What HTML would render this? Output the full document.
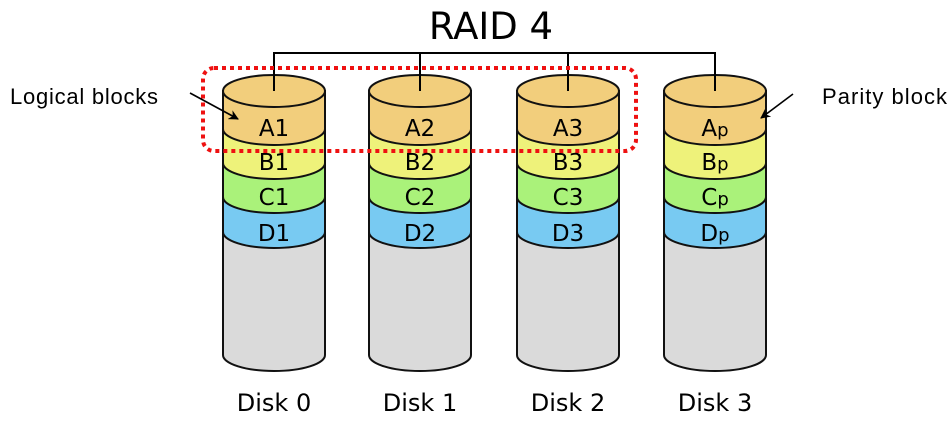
<!DOCTYPE html>
<html><head><meta charset="utf-8"><style>
html,body{margin:0;padding:0;background:#fff;}
svg{display:block;}
</style></head><body>
<svg width="951" height="426" viewBox="0 0 951 426" xmlns="http://www.w3.org/2000/svg">
<defs>
<marker id="ah" markerWidth="10" markerHeight="10" refX="9" refY="5" orient="auto" markerUnits="userSpaceOnUse">
<path d="M0,0 L10,5 L0,10 L3,5 Z" fill="#000"/>
</marker>
<g id="cyl" stroke="#111" stroke-width="2">
<path d="M-51,91 L-51,355 A51,16 0 0 0 51,355 L51,91 Z" fill="#dadada"/>
<path d="M-51,91 L-51,232 A51,16 0 0 0 51,232 L51,91 Z" fill="#78caf2"/>
<path d="M-51,91 L-51,197 A51,16 0 0 0 51,197 L51,91 Z" fill="#aaf27a"/>
<path d="M-51,91 L-51,163 A51,16 0 0 0 51,163 L51,91 Z" fill="#eef27a"/>
<path d="M-51,91 L-51,129 A51,16 0 0 0 51,129 L51,91 Z" fill="#f2ce7c"/>
<ellipse cx="0" cy="91" rx="51" ry="16" fill="#f2ce7c"/>
</g>
</defs>
<text x="491" y="39" style="font-family:'DejaVu Sans',sans-serif;font-size:37px" text-anchor="middle" fill="#000">RAID 4</text>

<use href="#cyl" x="274"/>
<use href="#cyl" x="420"/>
<use href="#cyl" x="568"/>
<use href="#cyl" x="715"/>

<path d="M274,91 L274,53 L715,53 L715,91 M420,53 L420,91 M568,53 L568,91" fill="none" stroke="#000" stroke-width="2"/>

<rect x="203" y="68" width="433" height="83" rx="11" fill="none" stroke="#ee1111" stroke-width="4" stroke-dasharray="4 4"/>

<g style="font-family:'DejaVu Sans',sans-serif;font-size:23px" text-anchor="middle" fill="#000">
<text x="274" y="136">A1</text><text x="274" y="170">B1</text><text x="274" y="205">C1</text><text x="274" y="241">D1</text>
<text x="420" y="136">A2</text><text x="420" y="170">B2</text><text x="420" y="205">C2</text><text x="420" y="241">D2</text>
<text x="568" y="136">A3</text><text x="568" y="170">B3</text><text x="568" y="205">C3</text><text x="568" y="241">D3</text>
<text x="715" y="136">A<tspan style="font-size:18px">p</tspan></text>
<text x="715" y="170">B<tspan style="font-size:18px">p</tspan></text>
<text x="715" y="205">C<tspan style="font-size:18px">p</tspan></text>
<text x="715" y="241">D<tspan style="font-size:18px">p</tspan></text>
</g>
<g style="font-family:'DejaVu Sans',sans-serif;font-size:24px" text-anchor="middle" fill="#000">
<text x="274" y="411">Disk 0</text>
<text x="420" y="411">Disk 1</text>
<text x="568" y="411">Disk 2</text>
<text x="715" y="411">Disk 3</text>
</g>

<text x="10" y="104" textLength="148" style="font-family:'Liberation Sans',sans-serif;font-size:22px" fill="#000">Logical blocks</text>
<text x="822" y="104" textLength="125" style="font-family:'Liberation Sans',sans-serif;font-size:22px" fill="#000">Parity block</text>

<line x1="190" y1="93" x2="238" y2="119" stroke="#000" stroke-width="1.6" marker-end="url(#ah)"/>
<line x1="793" y1="94" x2="761" y2="118" stroke="#000" stroke-width="1.6" marker-end="url(#ah)"/>
</svg>
</body></html>
